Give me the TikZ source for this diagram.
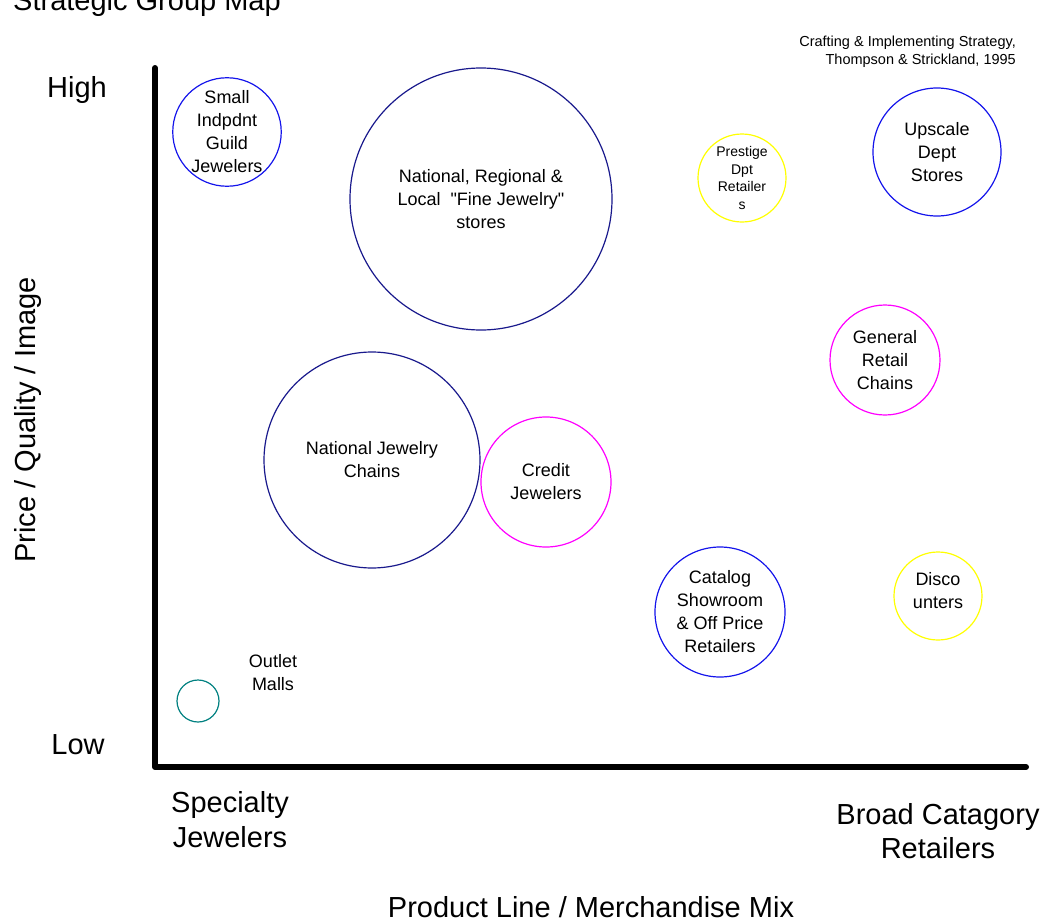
\documentclass[tikz,border=0pt]{standalone}
\usepackage{fontspec}
\setmainfont{Liberation Sans}
% same face without TeX ligature mapping, so " stays a straight quote
\newfontfamily\plainquote{Liberation Sans}[Ligatures=ResetAll]
\begin{document}
\begin{tikzpicture}[x=1pt,y=-1pt,
  big/.style={font=\fontsize{29}{35}\selectfont, inner sep=0pt, align=center},
  small/.style={font=\fontsize{14.5}{18}\selectfont, inner sep=0pt, align=right},
  group/.style={circle, draw, line width=1.2pt, inner sep=0pt, align=center,
    font=\fontsize{18}{23}\selectfont},
  axis/.style={line width=6pt, line cap=round, line join=round}]
\definecolor{bblue}{RGB}{20,20,235}
\definecolor{navy}{RGB}{25,25,140}
\definecolor{mag}{RGB}{255,0,255}
\definecolor{yel}{RGB}{255,255,0}
\definecolor{teal2}{RGB}{0,128,128}
\useasboundingbox (0,0) rectangle (1045,921);
\clip (0,0) rectangle (1045,921);

% titles
\node[big, anchor=base west] (title) at (13,10) {Strategic Group Map};
\node[small, anchor=base east] (cite1) at (1016,46) {Crafting \& Implementing Strategy,};
\node[small, anchor=base east] (cite2) at (1016,64) {Thompson \& Strickland, 1995};

% axes
\coordinate (ytop) at (155,68);
\coordinate (origin) at (155,767);
\coordinate (xend) at (1026,767);
\draw[axis] (ytop) -- (origin) -- (xend);

% axis labels
\node[big, anchor=base] (high) at (77,97) {High};
\node[big, anchor=base] (low) at (78,754) {Low};
\node[big, anchor=base] (spec1) at (230,812) {Specialty};
\node[big, anchor=base] (spec2) at (230,847) {Jewelers};
\node[big, anchor=base] (broad1) at (938,824) {Broad Catagory};
\node[big, anchor=base] (broad2) at (938,858) {Retailers};
\node[big, anchor=base] (xlab) at (591,917) {Product Line / Merchandise Mix};
\node[big, anchor=base, rotate=90] (ylab) at (35,420) {Price / Quality / Image};

% strategic groups
\node[group, draw=bblue, minimum size=101pt] (guild) at (227,132)
  {Small\\Indpdnt\\Guild\\Jewelers};
\node[group, draw=navy, minimum size=262pt] (fine) at (481,199)
  {National, Regional \&\\Local\ \ {\plainquote"}Fine Jewelry{\plainquote"}\\stores};
\node[group, draw=yel, minimum size=88pt, font=\fontsize{14}{17.5}\selectfont] (prestige) at (742,178)
  {Prestige\\Dpt\\Retailer\\s};
\node[group, draw=bblue, minimum size=128pt] (upscale) at (937,152)
  {Upscale\\Dept\\Stores};
\node[group, draw=mag, minimum size=110pt] (general) at (885,360)
  {General\\Retail\\Chains};
\node[group, draw=navy, minimum size=216pt] (njc) at (372,460)
  {National Jewelry\\Chains};
\node[group, draw=mag, minimum size=130pt] (credit) at (546,482)
  {Credit\\Jewelers};
\node[group, draw=bblue, minimum size=130pt] (catalog) at (720,612)
  {Catalog\\Showroom\\\& Off Price\\Retailers};
\node[group, draw=yel, minimum size=88pt] (disc) at (938,596) {};
\node[group, draw=none, anchor=center] (disctext) at (938,591) {Disco\\unters};
\node[group, draw=teal2, minimum size=42pt] (outlet) at (198,701) {};
\node[group, draw=none] (outlettext) at (273,673) {Outlet\\Malls};
\end{tikzpicture}
\end{document}
